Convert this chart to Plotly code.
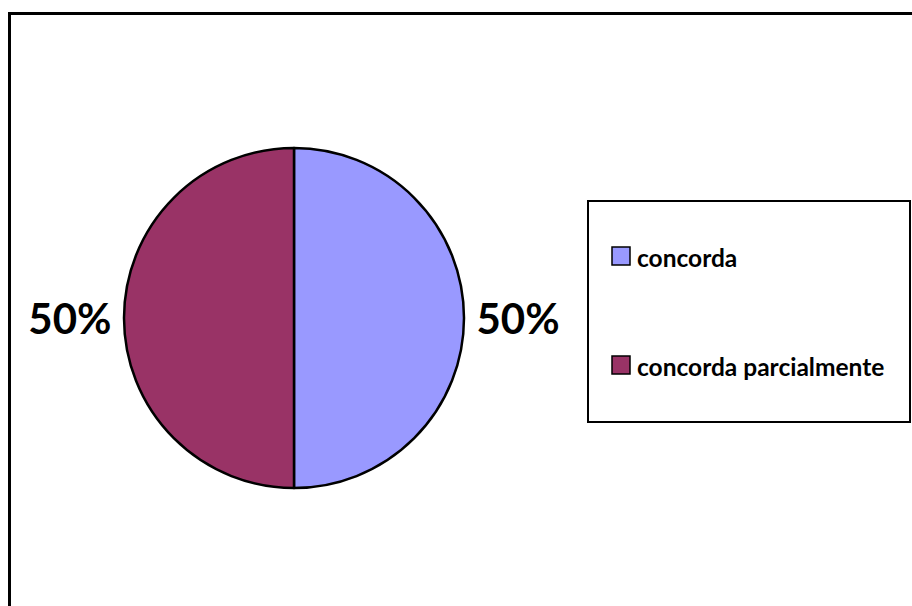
import plotly.graph_objects as go

categories = ["concorda", "concorda parcialmente"]
values = [50, 50]
colors = ["#9999FF", "#993366"]

W, H = 912, 606

def px(x):
    return x / W

def py(y):
    return 1 - y / H

fig = go.Figure()
fig.add_trace(go.Pie(
    labels=categories,
    values=values,
    sort=False,
    direction="clockwise",
    rotation=0,
    marker=dict(colors=colors, line=dict(color="black", width=2.5)),
    textinfo="percent",
    textposition="outside",
    textfont=dict(family="Lato", size=42, color="black", weight="bold"),
    showlegend=False,
    hoverinfo="label+percent",
    domain=dict(x=[px(124), px(464)], y=[py(488), py(148)]),
))

shapes = [
    # outer chart frame (only top and left edges visible)
    dict(type="rect", xref="paper", yref="paper",
         x0=px(9.5), x1=px(960), y0=py(13.5), y1=py(660),
         line=dict(color="black", width=3), fillcolor="rgba(0,0,0,0)"),
    # legend box
    dict(type="rect", xref="paper", yref="paper",
         x0=px(588), x1=px(910), y0=py(201), y1=py(422),
         line=dict(color="black", width=2), fillcolor="white"),
]
annotations = []
item_y = [256, 365]
for name, col, yc in zip(categories, colors, item_y):
    shapes.append(dict(type="rect", xref="paper", yref="paper",
                       x0=px(612), x1=px(630), y0=py(yc - 9), y1=py(yc + 9),
                       line=dict(color="black", width=1.5), fillcolor=col))
    annotations.append(dict(xref="paper", yref="paper", x=px(635), y=py(yc + 1),
                            xanchor="left", yanchor="middle", showarrow=False,
                            text="<b>" + name + "</b>",
                            font=dict(family="Lato", size=24.5, color="black")))

fig.update_layout(
    width=W, height=H,
    margin=dict(l=0, r=0, t=0, b=0),
    paper_bgcolor="white",
    plot_bgcolor="white",
    shapes=shapes,
    annotations=annotations,
)

fig.write_html(
    "out.html",
    config={"displayModeBar": False},
    post_script="document.body.style.margin='0';document.body.style.overflow='hidden';",
)
